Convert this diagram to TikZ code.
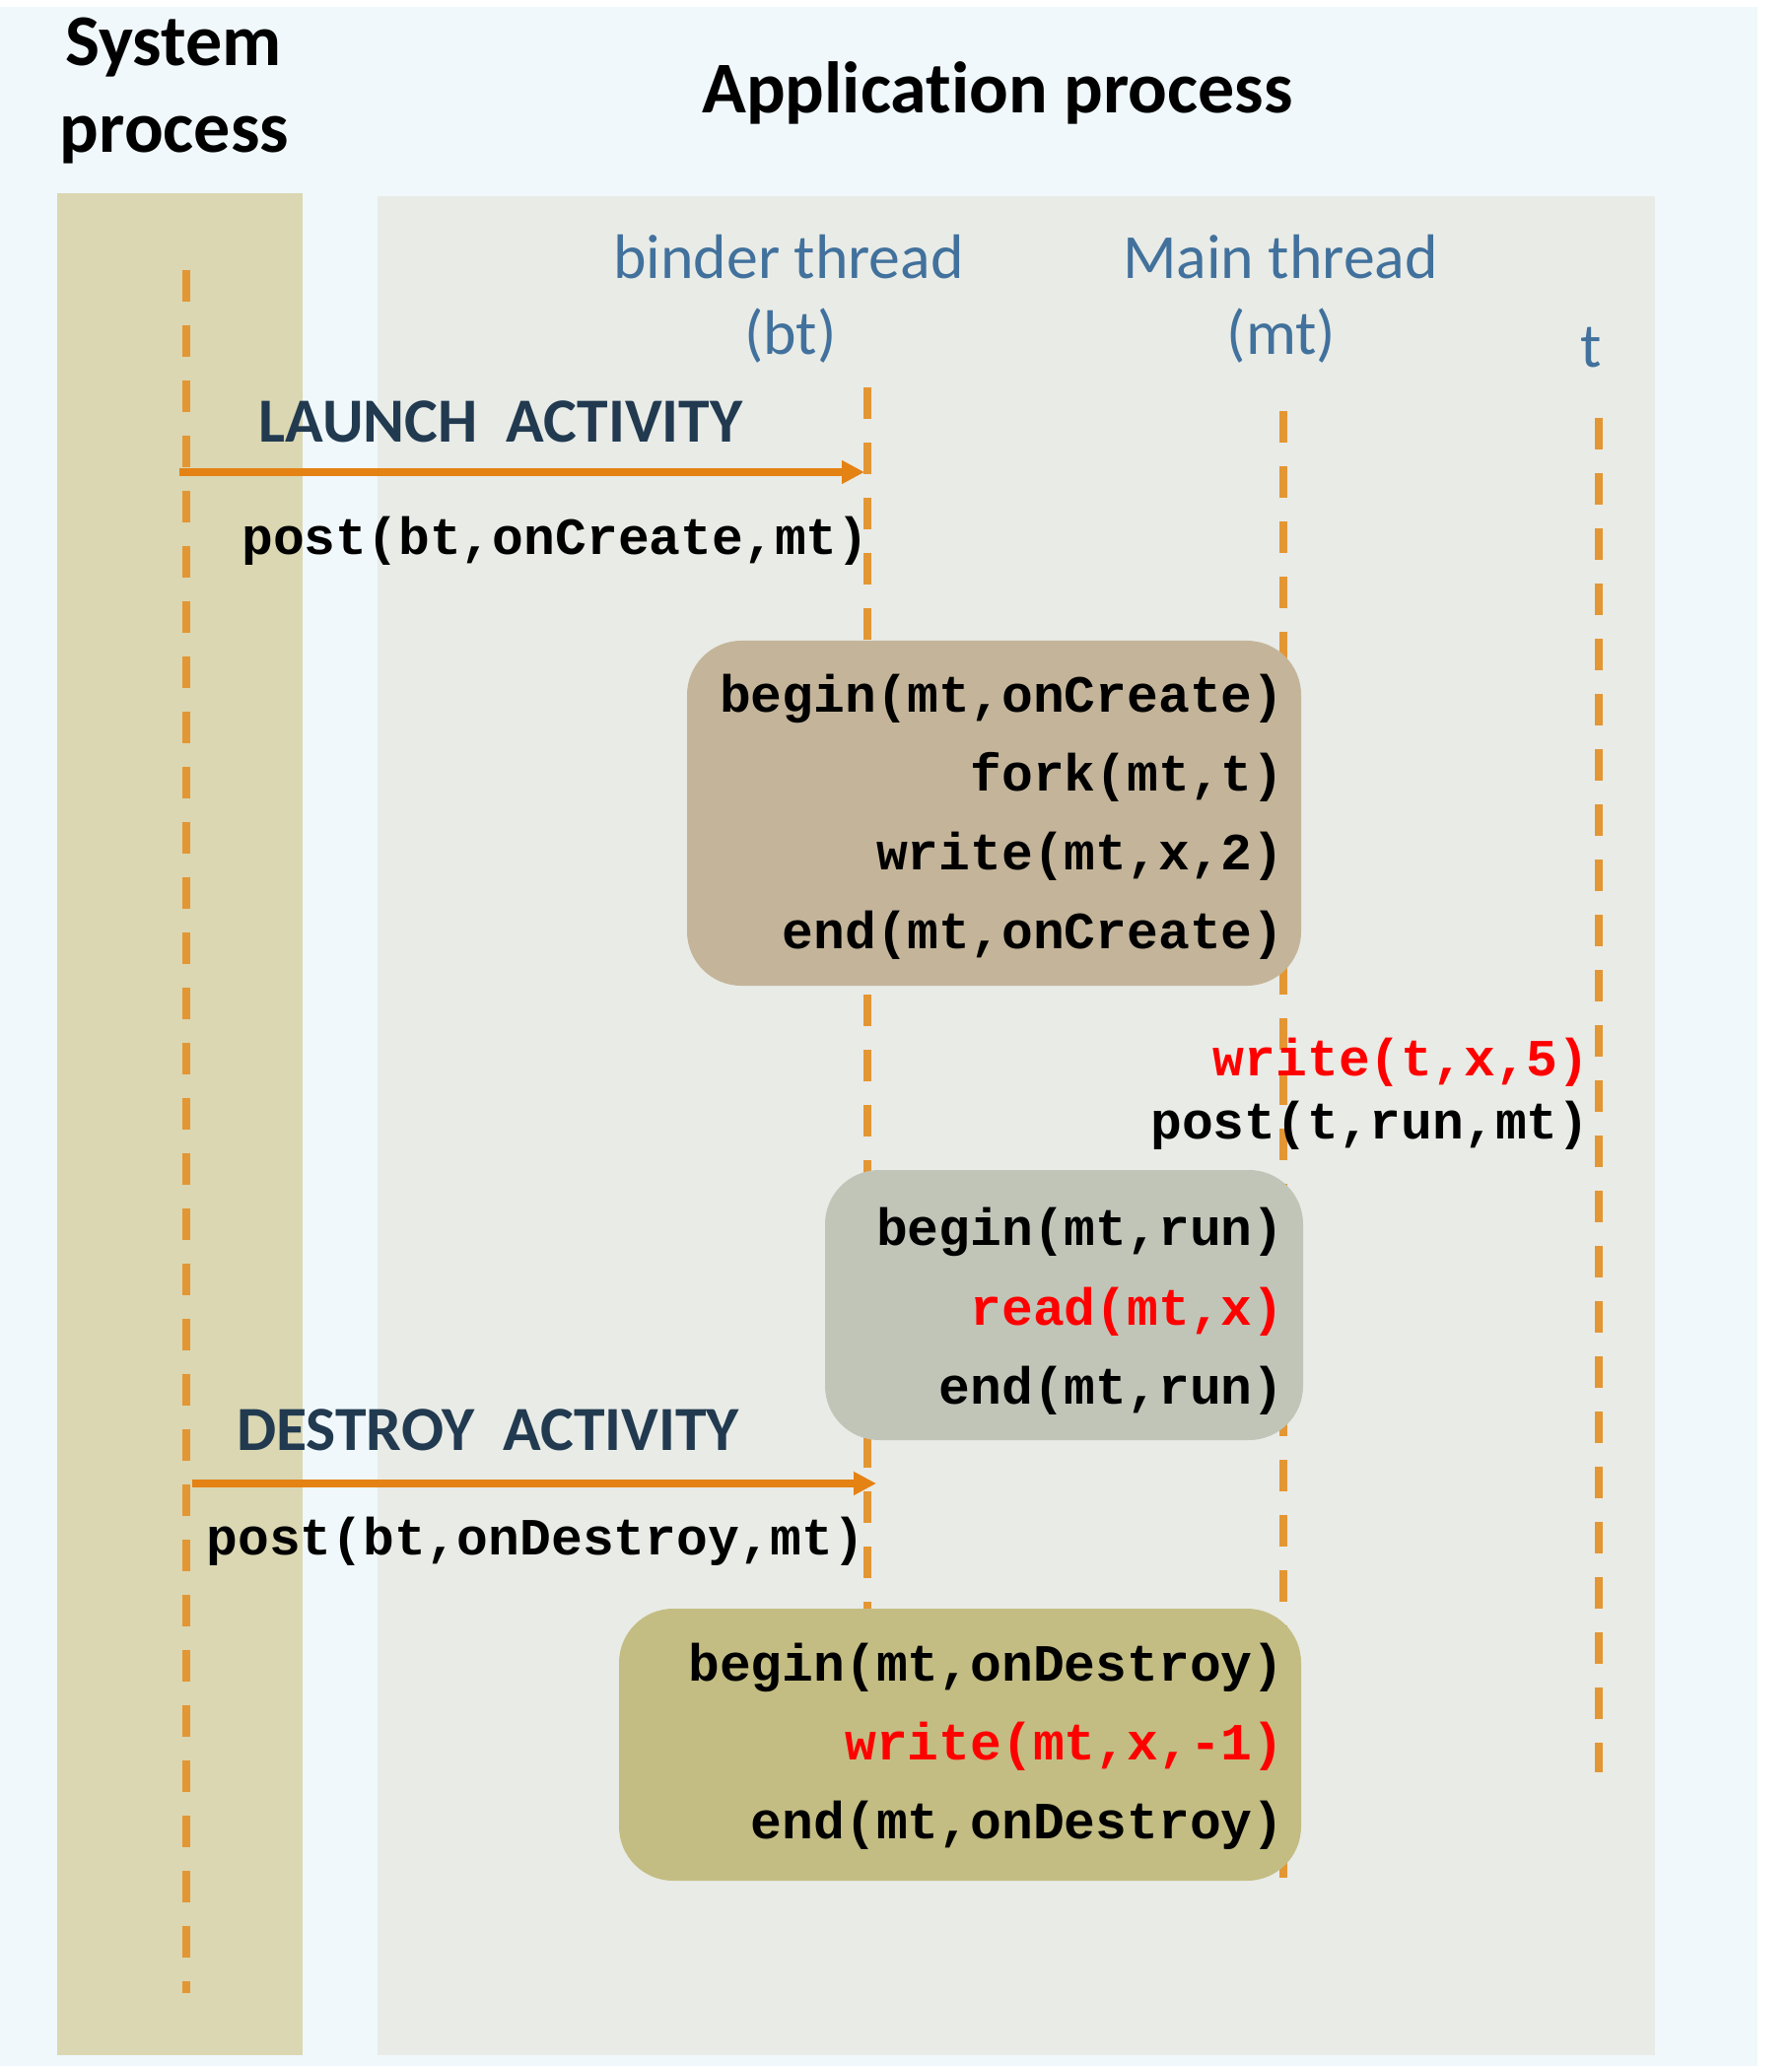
\documentclass[tikz,border=0pt]{standalone}
\usepackage{fontspec}
\usetikzlibrary{arrows.meta,fit}
\newfontfamily\carlito[Ligatures=NoCommon]{Carlito}
\newfontfamily\codefont{Liberation Mono}
\definecolor{skybg}{RGB}{240,248,251}
\definecolor{syscol}{RGB}{218,215,178}
\definecolor{appcol}{RGB}{233,235,230}
\definecolor{lifeorange}{RGB}{227,150,52}
\definecolor{msgorange}{RGB}{228,130,20}
\definecolor{threadblue}{RGB}{65,113,156}
\definecolor{labelnavy}{RGB}{33,58,80}
\definecolor{createfill}{RGB}{196,181,154}
\definecolor{runfill}{RGB}{192,197,184}
\definecolor{destroyfill}{RGB}{195,189,131}
\definecolor{codered}{RGB}{255,0,0}
\begin{document}
\begin{tikzpicture}[x=0.4pt,y=-0.4pt,
  title/.style={font=\carlito\bfseries\fontsize{29.6pt}{35pt}\selectfont, inner sep=0, anchor=base},
  thread/.style={font=\carlito\fontsize{25.5pt}{30pt}\selectfont, text=threadblue, inner sep=0, anchor=base},
  msglabel/.style={font=\carlito\bfseries\fontsize{25.5pt}{30pt}\selectfont, text=labelnavy, inner sep=0, anchor=base},
  code/.style={font=\codefont\bfseries\fontsize{21.2pt}{26pt}\selectfont, inner sep=0, anchor=base east},
  hot/.style={code, text=codered},
  lifeline/.style={draw=lifeorange, line width=3.2pt, dash pattern=on 12.8pt off 9.6pt},
  message/.style={draw=msgorange, line width=3.2pt, -{Triangle[length=9.2pt,width=9pt]}},
  block/.style={rounded corners=22pt, inner sep=0},
]
% page and process backgrounds
\useasboundingbox (0,0) rectangle (1817,2096);
\fill[white] (0,0) rectangle (1817,2096);
\fill[skybg] (0,7) rectangle (1783,2096);
\fill[syscol] (58,196) rectangle (307,2085);
\fill[appcol] (383,199) rectangle (1679,2085);

% headings
\node[title] (sysTitleA) at (176,67) {System};
\node[title] (sysTitleB) at (177,155) {process};
\node[title] (appTitle) at (1012,115) {Application process};

% thread names
\node[thread] (btName) at (800,283) {binder thread};
\node[thread] (btAbbr) at (802,360) {(bt)};
\node[thread] (mtName) at (1299,283) {Main thread};
\node[thread] (mtAbbr) at (1300,360) {(mt)};
\node[thread] (tName) at (1614,373) {t};

% lifelines
\coordinate (sysTop) at (189,274);
\coordinate (sysBot) at (189,2022);
\coordinate (btTop) at (880,393);
\coordinate (btBot) at (880,1632);
\coordinate (mtTop) at (1302,417);
\coordinate (mtBot) at (1302,1905);
\coordinate (tTop) at (1622,424);
\coordinate (tBot) at (1622,1798);
\draw[lifeline] (sysTop) -- (sysBot);
\draw[lifeline] (btTop) -- (btBot);
\draw[lifeline] (mtTop) -- (mtBot);
\draw[lifeline] (tTop) -- (tBot);

% launch message
\coordinate (launchFrom) at (182,479);
\coordinate (launchTo) at (877,479);
\node[msglabel] (launchLbl) at (508,449) {LAUNCH\ \ ACTIVITY};
\draw[message] (launchFrom) -- (launchTo);
\node[code] (launchPost) at (882,563) {post(bt,onCreate,mt)};

% onCreate handler
\node[block, fill=createfill, fit={(697,650) (1320,1000)}] (createBox) {};
\node[code] (createA) at (1303,722) {begin(mt,onCreate)};
\node[code] (createB) at (1303,802) {fork(mt,t)};
\node[code] (createC) at (1303,882) {write(mt,x,2)};
\node[code] (createD) at (1303,962) {end(mt,onCreate)};

% forked thread actions
\node[hot] (tWrite) at (1613,1091) {write(t,x,5)};
\node[code] (tPost) at (1613,1155) {post(t,run,mt)};

% run handler
\node[block, fill=runfill, fit={(837,1187) (1322,1461)}] (runBox) {};
\node[code] (runA) at (1303,1263) {begin(mt,run)};
\node[hot] (runB) at (1303,1344) {read(mt,x)};
\node[code] (runC) at (1303,1424) {end(mt,run)};

% destroy message
\coordinate (destroyFrom) at (195,1505);
\coordinate (destroyTo) at (889,1505);
\node[msglabel] (destroyLbl) at (495,1471) {DESTROY\ \ ACTIVITY};
\draw[message] (destroyFrom) -- (destroyTo);
\node[code] (destroyPost) at (878,1577) {post(bt,onDestroy,mt)};

% onDestroy handler
\node[block, fill=destroyfill, fit={(628,1632) (1320,1908)}] (destroyBox) {};
\node[code] (destroyA) at (1303,1705) {begin(mt,onDestroy)};
\node[hot] (destroyB) at (1303,1785) {write(mt,x,-1)};
\node[code] (destroyC) at (1303,1865) {end(mt,onDestroy)};
\end{tikzpicture}
\end{document}
